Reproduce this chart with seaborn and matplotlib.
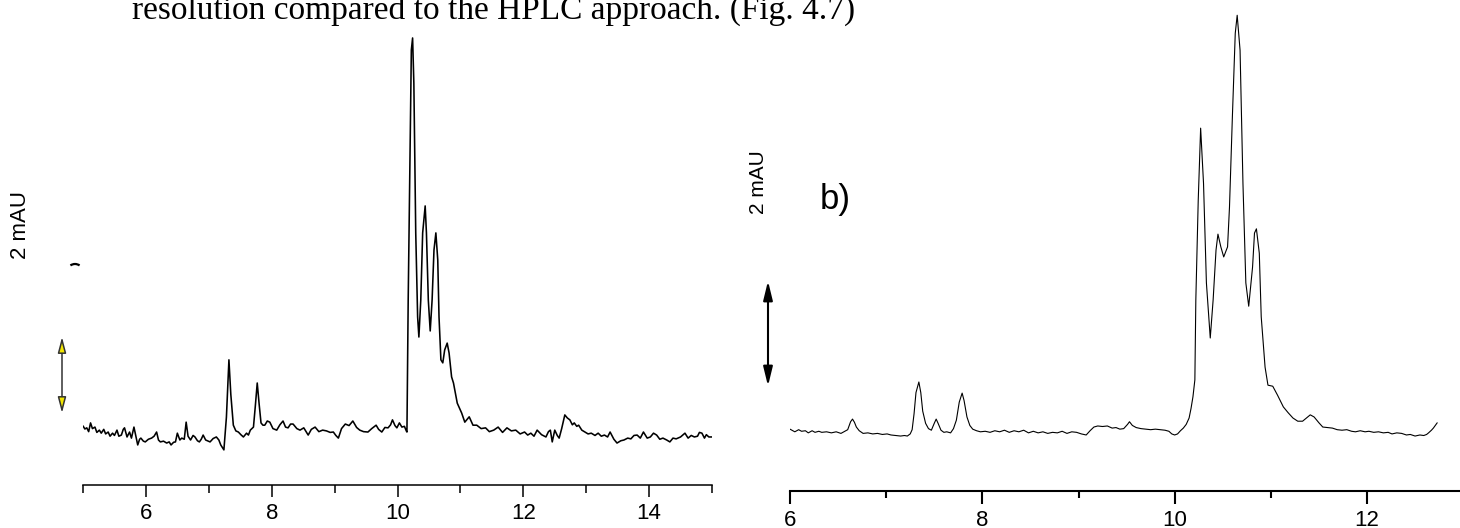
import matplotlib
matplotlib.use("Agg")
import matplotlib.pyplot as plt
import seaborn as sns
import pandas as pd
from matplotlib.ticker import MultipleLocator
from matplotlib.patches import Arc

# ---------------- data (retention time in min, absorbance in mAU) ----------------
left_time = [
    5.00, 5.03, 5.06, 5.09, 5.12, 5.15, 5.19, 5.22, 5.26, 5.29,
    5.33, 5.36, 5.40, 5.43, 5.47, 5.50, 5.54, 5.57, 5.61, 5.64,
    5.66, 5.70, 5.74, 5.77, 5.81, 5.84, 5.87, 5.90, 5.92, 5.96,
    5.99, 6.04, 6.09, 6.13, 6.17, 6.20, 6.23, 6.28, 6.33, 6.37,
    6.40, 6.44, 6.47, 6.50, 6.54, 6.57, 6.61, 6.64, 6.67, 6.71,
    6.75, 6.78, 6.82, 6.85, 6.88, 6.91, 6.95, 7.02, 7.07, 7.12,
    7.16, 7.19, 7.24, 7.28, 7.32, 7.35, 7.39, 7.43, 7.47, 7.51,
    7.55, 7.60, 7.63, 7.66, 7.71, 7.74, 7.77, 7.80, 7.83, 7.86,
    7.89, 7.93, 7.97, 8.02, 8.08, 8.13, 8.18, 8.22, 8.26, 8.30,
    8.34, 8.40, 8.45, 8.51, 8.58, 8.63, 8.69, 8.75, 8.81, 8.87,
    8.93, 8.98, 9.02, 9.06, 9.11, 9.17, 9.23, 9.29, 9.35, 9.40,
    9.46, 9.53, 9.59, 9.66, 9.70, 9.75, 9.80, 9.85, 9.89, 9.92,
    9.96, 9.99, 10.03, 10.07, 10.11, 10.14, 10.15, 10.17, 10.20, 10.22,
    10.24, 10.26, 10.29, 10.32, 10.34, 10.37, 10.40, 10.44, 10.46, 10.49,
    10.52, 10.55, 10.58, 10.61, 10.64, 10.66, 10.69, 10.72, 10.75, 10.79,
    10.82, 10.86, 10.89, 10.95, 11.02, 11.07, 11.14, 11.20, 11.26, 11.33,
    11.40, 11.46, 11.53, 11.60, 11.67, 11.74, 11.81, 11.88, 11.95, 12.02,
    12.07, 12.12, 12.17, 12.22, 12.29, 12.36, 12.40, 12.43, 12.46, 12.50,
    12.54, 12.57, 12.61, 12.66, 12.70, 12.74, 12.78, 12.81, 12.85, 12.88,
    12.93, 12.98, 13.03, 13.08, 13.14, 13.19, 13.24, 13.29, 13.34, 13.38,
    13.44, 13.49, 13.55, 13.60, 13.66, 13.71, 13.76, 13.81, 13.86, 13.91,
    13.97, 14.02, 14.07, 14.12, 14.17, 14.22, 14.28, 14.33, 14.38, 14.43,
    14.50, 14.57, 14.62, 14.67, 14.72, 14.77, 14.80, 14.84, 14.88, 14.91,
    14.95, 15.00,
]
left_signal = [
    0.37, 0.29, 0.32, 0.22, 0.45, 0.30, 0.34, 0.20, 0.26, 0.18,
    0.28, 0.16, 0.21, 0.10, 0.18, 0.12, 0.26, 0.10, 0.13, 0.28,
    0.32, 0.08, 0.21, 0.05, 0.34, 0.10, -0.13, 0.02, 0.05, -0.03,
    -0.05, 0.02, 0.05, 0.10, 0.21, 0.00, -0.05, -0.03, -0.08, -0.05,
    -0.13, -0.06, -0.05, 0.18, 0.00, 0.05, 0.02, 0.47, 0.10, 0.00,
    0.12, 0.08, -0.02, -0.05, 0.02, 0.13, 0.00, -0.05, 0.04, 0.08,
    0.00, -0.13, -0.26, 0.60, 2.11, 1.20, 0.39, 0.24, 0.21, 0.14,
    0.08, 0.18, 0.13, 0.26, 0.34, 0.90, 1.50, 0.95, 0.45, 0.39,
    0.39, 0.50, 0.47, 0.30, 0.26, 0.40, 0.50, 0.34, 0.32, 0.42,
    0.42, 0.30, 0.26, 0.32, 0.13, 0.28, 0.34, 0.22, 0.26, 0.24,
    0.20, 0.21, 0.12, 0.05, 0.30, 0.42, 0.38, 0.50, 0.33, 0.26,
    0.22, 0.21, 0.30, 0.39, 0.28, 0.21, 0.33, 0.32, 0.40, 0.53,
    0.38, 0.32, 0.45, 0.34, 0.36, 0.24, 0.21, 3.68, 7.63, 10.26,
    10.58, 9.39, 5.45, 3.24, 2.71, 3.68, 5.45, 6.16, 5.45, 3.68,
    2.87, 3.68, 5.00, 5.45, 4.74, 3.24, 2.11, 2.03, 2.37, 2.55,
    2.29, 1.66, 1.50, 0.97, 0.71, 0.47, 0.61, 0.39, 0.39, 0.30,
    0.32, 0.22, 0.26, 0.34, 0.20, 0.32, 0.24, 0.26, 0.16, 0.21,
    0.13, 0.18, 0.10, 0.26, 0.14, 0.08, 0.22, 0.26, -0.05, 0.26,
    0.12, 0.05, 0.30, 0.66, 0.58, 0.53, 0.40, 0.45, 0.36, 0.39,
    0.26, 0.21, 0.16, 0.18, 0.12, 0.18, 0.10, 0.13, 0.08, 0.21,
    0.02, -0.08, -0.02, 0.00, 0.05, 0.03, 0.12, 0.13, 0.05, 0.21,
    0.05, 0.08, 0.18, 0.13, 0.02, 0.05, 0.00, -0.05, 0.05, 0.03,
    0.08, 0.18, 0.05, 0.12, 0.08, 0.10, 0.20, 0.18, 0.05, 0.14,
    0.08, 0.08,
]

right_time = [
    6.00, 6.05, 6.09, 6.12, 6.16, 6.19, 6.23, 6.26, 6.30, 6.33,
    6.38, 6.43, 6.48, 6.53, 6.57, 6.60, 6.63, 6.65, 6.67, 6.69,
    6.72, 6.76, 6.81, 6.86, 6.91, 6.96, 7.01, 7.05, 7.10, 7.15,
    7.19, 7.22, 7.25, 7.27, 7.29, 7.31, 7.34, 7.36, 7.38, 7.41,
    7.44, 7.47, 7.50, 7.52, 7.54, 7.57, 7.60, 7.63, 7.67, 7.70,
    7.73, 7.76, 7.79, 7.81, 7.84, 7.87, 7.90, 7.94, 7.98, 8.03,
    8.08, 8.13, 8.18, 8.23, 8.28, 8.33, 8.38, 8.43, 8.48, 8.53,
    8.58, 8.63, 8.68, 8.73, 8.78, 8.83, 8.88, 8.93, 8.98, 9.03,
    9.08, 9.12, 9.16, 9.20, 9.25, 9.30, 9.35, 9.39, 9.43, 9.47,
    9.51, 9.53, 9.56, 9.60, 9.65, 9.70, 9.75, 9.80, 9.85, 9.90,
    9.94, 9.97, 10.00, 10.03, 10.06, 10.09, 10.12, 10.15, 10.17, 10.19,
    10.21, 10.22, 10.245, 10.27, 10.30, 10.33, 10.37, 10.40, 10.43, 10.45,
    10.48, 10.51, 10.55, 10.57, 10.60, 10.63, 10.65, 10.68, 10.71, 10.74,
    10.77, 10.81, 10.83, 10.85, 10.88, 10.90, 10.94, 10.97, 11.02, 11.07,
    11.13, 11.18, 11.23, 11.28, 11.33, 11.37, 11.41, 11.45, 11.50, 11.54,
    11.59, 11.64, 11.69, 11.74, 11.79, 11.84, 11.88, 11.93, 11.98, 12.02,
    12.07, 12.12, 12.17, 12.22, 12.26, 12.31, 12.36, 12.41, 12.45, 12.50,
    12.55, 12.59, 12.62, 12.64, 12.67, 12.69, 12.71, 12.73,
]
right_signal = [
    0.11, 0.06, 0.10, 0.07, 0.08, 0.04, 0.08, 0.05, 0.07, 0.05,
    0.06, 0.04, 0.06, 0.03, 0.07, 0.10, 0.25, 0.30, 0.24, 0.15,
    0.08, 0.03, 0.04, 0.02, 0.03, 0.01, 0.02, 0.00, -0.01, -0.02,
    -0.01, -0.02, 0.02, 0.10, 0.40, 0.80, 1.00, 0.80, 0.45, 0.22,
    0.12, 0.09, 0.22, 0.30, 0.22, 0.09, 0.05, 0.06, 0.04, 0.12,
    0.28, 0.62, 0.79, 0.65, 0.34, 0.18, 0.11, 0.08, 0.06, 0.07,
    0.05, 0.08, 0.06, 0.09, 0.05, 0.08, 0.06, 0.09, 0.04, 0.07,
    0.04, 0.06, 0.03, 0.05, 0.04, 0.07, 0.03, 0.06, 0.05, 0.02,
    0.00, 0.08, 0.15, 0.17, 0.16, 0.17, 0.13, 0.14, 0.11, 0.12,
    0.20, 0.25, 0.18, 0.14, 0.12, 0.11, 0.10, 0.11, 0.10, 0.09,
    0.07, 0.02, 0.00, 0.02, 0.08, 0.13, 0.20, 0.32, 0.50, 0.72,
    1.04, 2.55, 4.43, 5.79, 4.75, 2.87, 1.83, 2.55, 3.49, 3.79,
    3.55, 3.36, 3.55, 4.30, 6.00, 7.58, 7.92, 7.26, 4.75, 2.87,
    2.43, 3.17, 3.81, 3.89, 3.43, 2.23, 1.28, 0.94, 0.92, 0.75,
    0.53, 0.42, 0.32, 0.26, 0.26, 0.32, 0.38, 0.34, 0.23, 0.15,
    0.14, 0.13, 0.10, 0.09, 0.10, 0.07, 0.06, 0.08, 0.06, 0.07,
    0.05, 0.06, 0.04, 0.05, 0.02, 0.04, 0.03, 0.00, 0.01, -0.02,
    0.00, -0.01, 0.01, 0.04, 0.09, 0.13, 0.18, 0.23,
]

left_ticks = [6, 8, 10, 12, 14]
right_ticks = [6, 8, 10, 12]
scale_label = "2 mAU"
panel_label = "b)"
caption = "resolution compared to the HPLC approach. (Fig. 4.7)"

# ---------------- figure ----------------
sns.set_style("white")
plt.rcParams['font.family'] = ['Liberation Sans', 'DejaVu Sans']

W, H = 1460, 528
fig = plt.figure(figsize=(W / 100, H / 100), dpi=100)
fig.patch.set_facecolor("white")

df_left = pd.DataFrame({"time": left_time, "signal": left_signal})
df_right = pd.DataFrame({"time": right_time, "signal": right_signal})

# left panel
axL = fig.add_axes([83 / W, 43 / H, 629 / W, 485 / H])
sns.lineplot(data=df_left, x="time", y="signal", ax=axL, color="black",
             lw=1.15, estimator=None, sort=False)
axL.set_xlim(5, 15)
axL.set_ylim(-1.184, 11.579)

# right panel
axR = fig.add_axes([790 / W, 37 / H, 670 / W, 491 / H])
sns.lineplot(data=df_right, x="time", y="signal", ax=axR, color="black",
             lw=0.8, estimator=None, sort=False)
axR.set_xlim(6, 12.967)
axR.set_ylim(-1.057, 8.208)

for ax, ticks, spw, majl, minl in [(axL, left_ticks, 1.1, 8.6, 5.8),
                                    (axR, right_ticks, 1.5, 9.0, 5.0)]:
    ax.patch.set_alpha(0)
    for s in ["top", "left", "right"]:
        ax.spines[s].set_visible(False)
    ax.spines["bottom"].set_color("black")
    ax.spines["bottom"].set_linewidth(spw)
    ax.set_xticks(ticks)
    ax.set_xticklabels([str(t) for t in ticks])
    ax.xaxis.set_minor_locator(MultipleLocator(1))
    ax.tick_params(axis="x", which="both", bottom=True, top=False)
    ax.tick_params(axis="x", which="major", length=majl, width=spw,
                   direction="out", color="black", labelsize=16,
                   labelcolor="black", pad=4.5)
    ax.tick_params(axis="x", which="minor", length=minl, width=spw,
                   direction="out", color="black")
    ax.set_yticks([])
    ax.set_xlabel("")
    ax.set_ylabel("")

# overlay in pixel coordinates for annotations
axO = fig.add_axes([0, 0, 1, 1])
axO.set_xlim(0, W)
axO.set_ylim(H, 0)
axO.axis("off")
axO.patch.set_visible(False)

# left scale bar (yellow heads)
axO.annotate("", xy=(62, 337), xytext=(62, 413),
             arrowprops=dict(arrowstyle="<|-|>,head_length=0.95,head_width=0.25",
                             fc="#f2e600", ec="#333333", lw=1.1,
                             shrinkA=0, shrinkB=0, mutation_scale=10))
# right scale bar (black heads)
axO.annotate("", xy=(768, 281), xytext=(768, 386),
             arrowprops=dict(arrowstyle="<|-|>,head_length=1.15,head_width=0.28",
                             fc="black", ec="black", lw=1.5,
                             shrinkA=0, shrinkB=0, mutation_scale=10))

# partially hidden panel label fragment on the left panel
axO.add_patch(Arc((75, 272), 16, 16, theta1=235, theta2=305,
                  color="black", lw=1.6))

# texts
axO.text(20, 225, scale_label, rotation=90, ha="center", va="center",
         fontsize=16, color="black")
axO.text(758, 182, scale_label, rotation=90, ha="center", va="center",
         fontsize=15, color="black")
axO.text(835, 199, panel_label, ha="center", va="center",
         fontsize=25, color="black")
fig.text(132 / W, 1 - 19 / H, caption, ha="left", va="baseline",
         fontsize=24, family=["Liberation Serif", "DejaVu Serif"],
         color="black")

fig.savefig("out.png", dpi=100, facecolor="white")
